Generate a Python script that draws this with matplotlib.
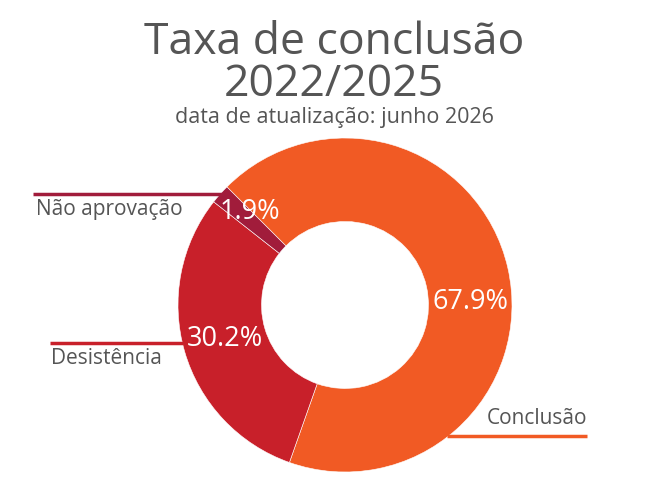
import matplotlib
matplotlib.use("Agg")
import matplotlib.pyplot as plt

categories = ["Conclusão", "Desistência", "Não aprovação"]
values = [67.9, 30.2, 1.9]
colors = ["#F15A24", "#C8202A", "#A11C3B"]

W, H = 650, 500
TEXT = "#555555"
plt.rcParams["font.family"] = ["Open Sans", "DejaVu Sans"]

fig = plt.figure(figsize=(6.5, 5), dpi=100, facecolor="white")
ax = fig.add_axes([0, 0, 1, 1])

cx, cy, r = 345, H - 305, 167
ax.pie(values, colors=colors, startangle=135, counterclock=False,
       center=(cx, cy), radius=r, frame=True,
       wedgeprops=dict(width=r * 0.5, edgecolor="white", linewidth=0.4))
ax.set_xlim(0, W)
ax.set_ylim(0, H)
ax.set_aspect("equal")
ax.axis("off")

# percentage labels inside slices
pct_pos = [(471, 302), (225, 339), (250, 212)]
for v, (px, py) in zip(values, pct_pos):
    ax.text(px, H - py, f"{v}%", color="white", fontsize=19.5,
            ha="center", va="center")

# leader lines with category names
lines = [
    # (x0, x1, y, text x, text y, ha)
    (447, 587, 436, 587, 419, "right"),
    (50, 183, 343, 51, 359, "left"),
    (33, 224, 194, 36, 210, "left"),
]
for (x0, x1, y, tx, ty, ha), name, c in zip(lines, categories, colors):
    ax.plot([x0, x1], [H - y, H - y], color=c, linewidth=2.5,
            solid_capstyle="butt")
    ax.text(tx, H - ty, name, color=TEXT, fontsize=15, ha=ha, va="center")

ax.text(W / 2 + 9, H - 43, "Taxa de conclusão", color=TEXT, fontsize=32,
        ha="center", va="center")
ax.text(W / 2 + 9, H - 85, "2022/2025", color=TEXT, fontsize=32,
        ha="center", va="center")
ax.text(W / 2 + 9, H - 117, "data de atualização: junho 2026", color=TEXT,
        fontsize=15.5, ha="center", va="center")

fig.savefig("out.png", dpi=100, facecolor="white")
plt.close(fig)
